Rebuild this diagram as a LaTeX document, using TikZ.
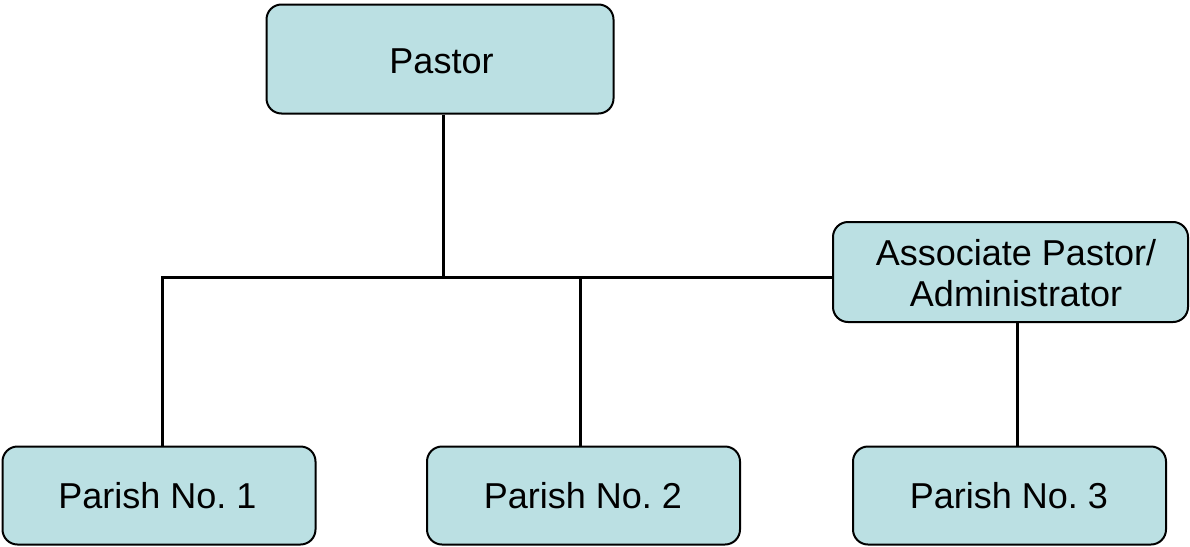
\documentclass[tikz,border=0pt]{standalone}
\usepackage{fontspec}
\setmainfont{Liberation Sans}
\frenchspacing
\definecolor{boxfill}{RGB}{187,224,227}
\begin{document}
\begin{tikzpicture}[x=1pt,y=-1pt,
  orgbox/.style={draw=black, line width=2pt, fill=boxfill, rounded corners=15pt,
    inner sep=0pt, font=\fontsize{36}{41}\selectfont, align=center},
  txt/.style={inner sep=0pt, font=\fontsize{36}{41}\selectfont, align=center},
  link/.style={line width=3pt, draw=black}]
\useasboundingbox (0,0) rectangle (1190,546);

% branch points on the horizontal bar
\coordinate (jp) at (443.5,277.5);
\coordinate (j1) at (162,277.5);
\coordinate (j2) at (580,277.5);
\coordinate (ja) at (1017,322);

% boxes
\node[orgbox, minimum width=347pt, minimum height=109pt] (pastor) at (440,59) {};
\node[txt] (pastortext) at (441.5,61) {Pastor};
\node[orgbox, minimum width=355pt, minimum height=100pt] (assoc) at (1010.5,272) {};
\node[txt] (assoctext) at (1016,273) {Associate Pastor/\\Administrator};
\node[orgbox, minimum width=313pt, minimum height=98pt] (p1) at (159,495.5) {};
\node[txt] (p1text) at (157.5,496) {Parish No. 1};
\node[orgbox, minimum width=313pt, minimum height=98pt] (p2) at (583.5,495.5) {};
\node[txt] (p2text) at (583,496) {Parish No. 2};
\node[orgbox, minimum width=313pt, minimum height=98pt] (p3) at (1009.5,495.5) {};
\node[txt] (p3text) at (1009,496) {Parish No. 3};

% connectors
\draw[link] (jp |- pastor.south) -- (jp);
\draw[link, line cap=rect] (j1 |- p1.north) -- (j1) -- (j1 -| assoc.west);
\draw[link] (j2) -- (j2 |- p2.north);
\draw[link] (ja) -- (ja |- p3.north);
\end{tikzpicture}
\end{document}
